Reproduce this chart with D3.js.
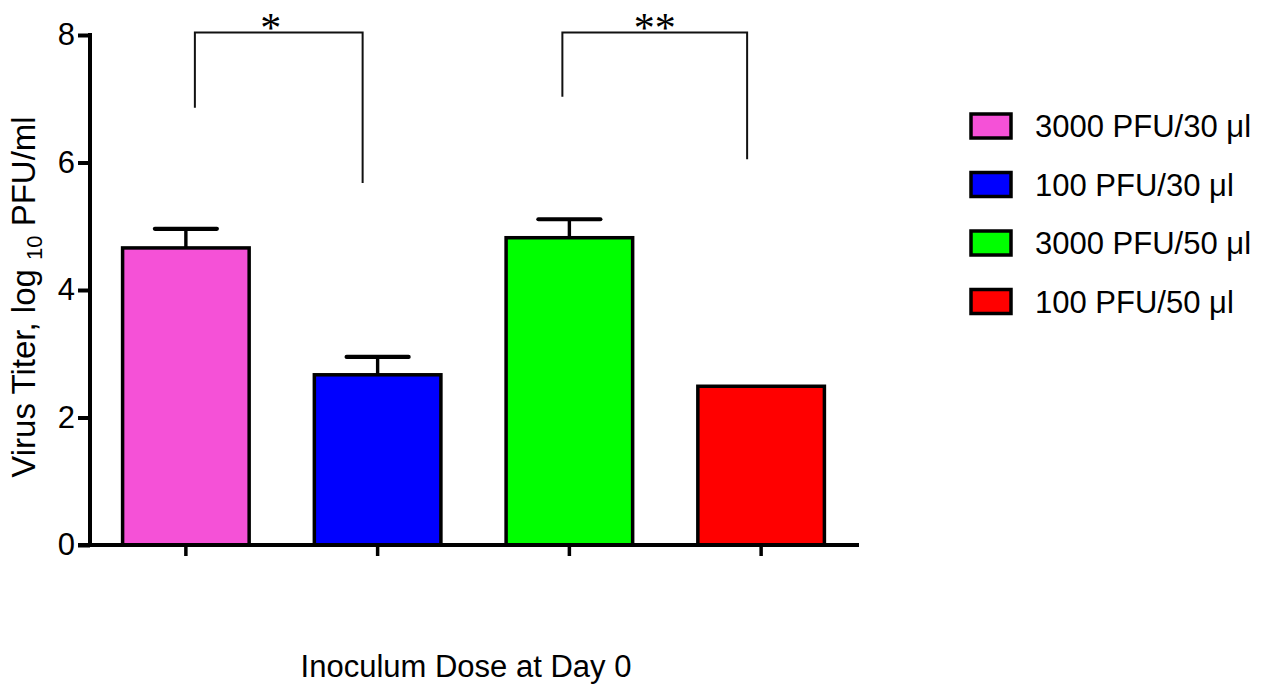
<!DOCTYPE html>
<html>
<head>
<meta charset="utf-8">
<script src="https://cdn.jsdelivr.net/npm/d3@7"></script>
<style>
  html, body { margin: 0; padding: 0; background: #fff; }
  svg { display: block; font-family: "Liberation Sans", Arial, sans-serif; }
</style>
</head>
<body>
<svg id="chart" width="1267" height="686"></svg>
<script>
// Virus titer by inoculum dose (mean ± SEM, log10 PFU/ml)
const groups = ["3000 PFU/30 μl", "100 PFU/30 μl", "3000 PFU/50 μl", "100 PFU/50 μl"];
const means  = [4.66, 2.67, 4.82, 2.49];
const sems   = [0.30, 0.28, 0.29, 0];
const colors = ["#f551d7", "#0000ff", "#00ff00", "#ff0000"];
const yTicks = [0, 2, 4, 6, 8];

// Significance brackets: group pair, label, bracket top and the two leg ends (log10 units)
const compPairs  = [[0, 1], [2, 3]];
const compLabels = ["*", "**"];
const compTop    = [8.04, 8.04];
const compLegs   = [[6.86, 5.68], [7.03, 6.05]];

const svg = d3.select("#chart");

const x = d3.scaleBand()
  .domain(d3.range(groups.length))
  .range([90, 857])
  .paddingInner(0.34)
  .paddingOuter(0.17);

const y = d3.scaleLinear().domain([0, 8]).range([545, 35]);

// Bars
svg.append("g").selectAll("rect")
  .data(means)
  .join("rect")
  .attr("x", (d, i) => x(i))
  .attr("y", d => y(d))
  .attr("width", x.bandwidth())
  .attr("height", d => y(0) - y(d))
  .attr("fill", (d, i) => colors[i])
  .attr("stroke", "#000")
  .attr("stroke-width", 3.5);

// Error bars (upper arm only)
const errG = svg.append("g");
means.forEach((m, i) => {
  if (!sems[i]) return;
  const cx = x(i) + x.bandwidth() / 2;
  errG.append("line")
    .attr("x1", cx).attr("x2", cx)
    .attr("y1", y(m)).attr("y2", y(m + sems[i]))
    .attr("stroke", "#000").attr("stroke-width", 3.4);
  errG.append("line")
    .attr("x1", cx - 31).attr("x2", cx + 31)
    .attr("y1", y(m + sems[i])).attr("y2", y(m + sems[i]))
    .attr("stroke", "#000").attr("stroke-width", 4.2)
    .attr("stroke-linecap", "round");
});

// Y axis
const yAxis = svg.append("g")
  .attr("transform", "translate(90,0)")
  .call(d3.axisLeft(y).tickValues(yTicks).tickSize(12).tickPadding(3).tickFormat(d3.format("d")));
yAxis.select(".domain").attr("stroke-width", 4).attr("d", "M0,33V545");
yAxis.selectAll(".tick line").attr("stroke-width", 4);
yAxis.selectAll(".tick text")
  .attr("font-size", 31)
  .attr("font-family", "Liberation Sans, Arial, sans-serif")
  .attr("fill", "#000");

// X axis with ticks at group centers, no labels
const xAxis = svg.append("g")
  .attr("transform", "translate(0,545)")
  .call(d3.axisBottom(x).tickSize(11).tickFormat(""));
xAxis.select(".domain").attr("stroke-width", 4).attr("d", "M78,0H859");
xAxis.selectAll(".tick line").attr("stroke-width", 3.5);

// Significance brackets
const legInset = [[9, -15], [-7, -14]];
const brG = svg.append("g");
compPairs.forEach((p, k) => {
  const xa = x(p[0]) + x.bandwidth() / 2 + legInset[k][0];
  const xb = x(p[1]) + x.bandwidth() / 2 + legInset[k][1];
  const yt = y(compTop[k]);
  brG.append("path")
    .attr("d", `M${xa},${y(compLegs[k][0])}V${yt}H${xb}V${y(compLegs[k][1])}`)
    .attr("fill", "none")
    .attr("stroke", "#111")
    .attr("stroke-width", 2);
  brG.append("text")
    .attr("x", (xa + xb) / 2 - (k === 0 ? 8 : 0))
    .attr("y", yt + 10)
    .attr("text-anchor", "middle")
    .attr("font-family", "Liberation Serif, Times New Roman, serif")
    .attr("font-size", 42)
    .attr("fill", "#000")
    .text(compLabels[k]);
});

// Axis titles
svg.append("text")
  .attr("transform", "translate(35,297) rotate(-90)")
  .attr("text-anchor", "middle")
  .attr("font-size", 33)
  .attr("fill", "#000")
  .call(t => {
    t.append("tspan").text("Virus Titer, log ");
    t.append("tspan").attr("font-size", 22).attr("dy", 7).text("10");
    t.append("tspan").attr("dy", -7).text(" PFU/ml");
  });

svg.append("text")
  .attr("x", 466)
  .attr("y", 677)
  .attr("text-anchor", "middle")
  .attr("font-size", 31)
  .attr("fill", "#000")
  .text("Inoculum Dose at Day 0");

// Legend
const legend = svg.append("g").attr("transform", "translate(971,126)");
const rows = legend.selectAll("g")
  .data(groups)
  .join("g")
  .attr("transform", (d, i) => `translate(0,${i * 58.5})`);
rows.append("rect")
  .attr("x", 0).attr("y", -12)
  .attr("width", 40).attr("height", 24)
  .attr("fill", (d, i) => colors[i])
  .attr("stroke", "#000")
  .attr("stroke-width", 3.5);
rows.append("text")
  .attr("x", 64)
  .attr("y", 0)
  .attr("dy", "0.36em")
  .attr("font-size", 31)
  .attr("fill", "#000")
  .text(d => d);
</script>
</body>
</html>
